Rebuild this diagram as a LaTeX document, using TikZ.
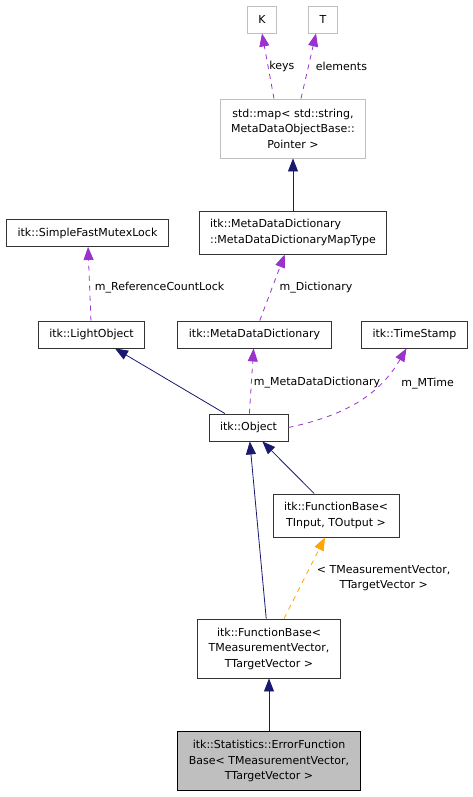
\documentclass[tikz,border=0pt]{standalone}
\usepackage{fontspec}
\setmainfont{DejaVu Sans}
\usepackage{tikz}
\usetikzlibrary{positioning,arrows.meta}

\definecolor{inheritblue}{HTML}{191970}
\definecolor{memberpurple}{HTML}{9A32CD}
\definecolor{templateorange}{HTML}{FFA500}
\definecolor{boxgray}{HTML}{BFBFBF}

\tikzset{
  cls/.style={draw=black!80, line width=0.9pt, fill=white, inner xsep=11pt,
    inner ysep=0pt, minimum height=27pt, align=center},
  extcls/.style={cls, draw=boxgray},
  twoline/.style={minimum height=43pt},
  threeline/.style={minimum height=59pt},
  inherit/.style={color=inheritblue, line width=0.8pt, -{Triangle[length=13pt,width=10pt]}},
  member/.style={inherit, color=memberpurple, dash pattern=on 5pt off 5pt},
  tmpl/.style={member, color=templateorange},
  lbl/.style={inner sep=1pt, text=black, right}
}

\begin{document}
\begin{tikzpicture}[node distance=2cm,on grid,font=\fontsize{11}{15.5}\selectfont]
    \useasboundingbox (-248.5pt,-369.5pt) rectangle (224.5pt,427.5pt);
    \node[cls] (object) {itk::Object};
    \node[cls] (lightobj) [above left = 93pt and 157pt of object]{itk::LightObject};
    \node[cls] (mdd) [above right = 93pt and 6pt of object]{itk::MetaDataDictionary};
    \node[cls] (timestamp) [right = 160pt of mdd]{itk::TimeStamp};
    \node[cls] (mutex) [above left = 101.5pt and 4pt of lightobj]{itk::SimpleFastMutexLock};
    \node[cls, twoline, align=left] (maptype) [above right = 102pt and 38.5pt of mdd]{itk::MetaDataDictionary\\::MetaDataDictionaryMapType};
    \node[extcls, threeline] (map) [above = 104pt of maptype]{std::map< std::string,\\ MetaDataObjectBase::\\Pointer >};
    \node[extcls] (k) [above left = 109pt and 31pt of map]{K};
    \node[extcls] (t) [right = 61pt of k]{T};
    \node[cls, twoline] (fbinput) [below right = 88pt and 87.5pt of object]{itk::FunctionBase<\\ TInput, TOutput >};
    \node[cls, threeline] (fbmv) [below right = 221pt and 20.5pt of object]{itk::FunctionBase<\\ TMeasurementVector,\\ TTargetVector >};
    \node[cls, threeline, fill=boxgray, draw=black] (efb) [below = 112.5pt of fbmv]{itk::Statistics::ErrorFunction\\Base< TMeasurementVector,\\ TTargetVector >};
    \path
    ([xshift=-19pt]map.north)
    edge [member] node [lbl] {keys} (k.south)
    ([xshift=8pt]map.north)
    edge [member] node [lbl, xshift=6pt] {elements} ([xshift=-7pt]t.south)
    (maptype)
    edge [inherit] (map)
    (lightobj)
    edge [member] node [lbl, xshift=4pt, yshift=-4pt] {m\_ReferenceCountLock} (mutex)
    (mdd)
    edge [member] node [lbl, xshift=6pt] {m\_Dictionary} (maptype)
    (object)
    edge [inherit] (lightobj)
    edge [member] node [lbl, xshift=1pt, yshift=-2pt] {m\_MetaDataDictionary} (mdd)
    (object.east)
    edge [member, out=12, in=-120] node [lbl, pos=.75, xshift=16pt, yshift=-4pt] {m\_MTime} (timestamp)
    (fbinput)
    edge [inherit] (object)
    (fbmv)
    edge [inherit] (object)
    edge [tmpl] node [lbl, align=center, xshift=11pt] {< TMeasurementVector,\\ TTargetVector >} (fbinput)
    (efb)
    edge [inherit] (fbmv)
    ;
  \end{tikzpicture}
\end{document}
